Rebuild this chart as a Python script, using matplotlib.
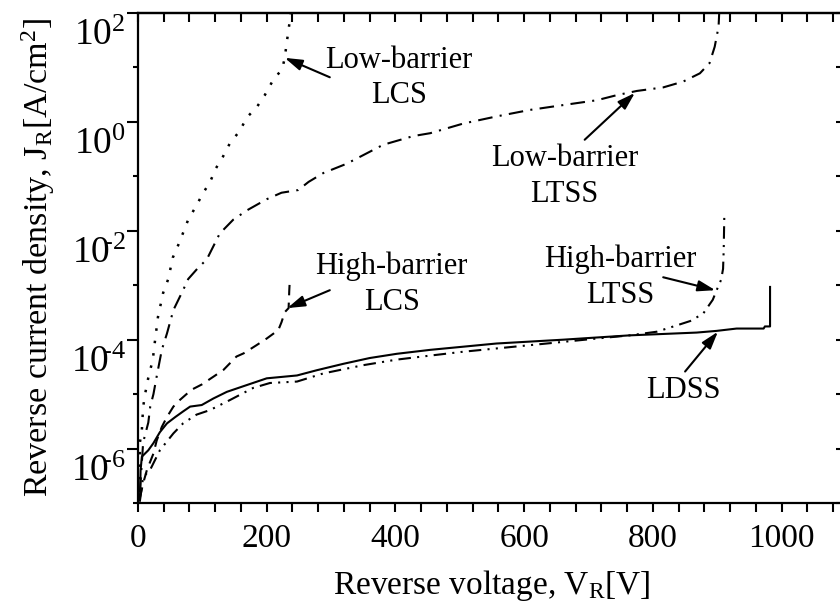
import math
import matplotlib
matplotlib.use("Agg")
import matplotlib.pyplot as plt
from matplotlib.ticker import FixedLocator, FuncFormatter, MultipleLocator, NullFormatter, NullLocator
from matplotlib.transforms import ScaledTranslation

plt.rcParams['font.family'] = ['Liberation Serif', 'DejaVu Serif']
plt.rcParams['mathtext.fontset'] = 'custom'
plt.rcParams['mathtext.rm'] = 'Liberation Serif'
plt.rcParams['mathtext.it'] = 'Liberation Serif:italic'
plt.rcParams['mathtext.bf'] = 'Liberation Serif:bold'

# Reverse I-V characteristics: voltage [V] and current density [A/cm^2]
lb_lcs_v = [2, 3, 6, 8, 11, 16, 23, 26, 31, 39, 47, 54, 64, 78, 90, 101, 112, 121,
            132, 143, 158, 169, 185, 197, 210, 224, 228, 231, 234, 236, 237]
lb_lcs_j = [1.6e-7, 1.3e-6, 2.2e-6, 5.8e-6, 1.0e-5, 2.0e-5, 4.3e-5, 8.7e-5, 2.6e-4,
            7.2e-4, 1.3e-3, 3.2e-3, 6.0e-3, 1.6e-2, 2.8e-2, 4.9e-2, 7.9e-2, 0.14,
            0.23, 0.41, 0.68, 1.2, 1.9, 3.1, 5.9, 9.3, 15, 28, 50, 75, 100]

lb_ltss_v = [3, 8, 16, 19, 24, 29, 37, 45, 55, 70, 78, 92, 107, 127, 148, 170, 200,
             223, 249, 265, 288, 324, 381, 428, 454, 505, 557, 609, 661, 713, 744,
             775, 816, 847, 873, 888, 896, 902, 903]
lb_ltss_j = [1.6e-7, 1.3e-6, 3.0e-6, 5.9e-6, 1.0e-5, 2.1e-5, 6.5e-5, 1.3e-4, 3.5e-4,
             8.1e-4, 1.3e-3, 2.0e-3, 3.0e-3, 8.9e-3, 1.6e-2, 2.4e-2, 3.8e-2, 5.0e-2,
             5.6e-2, 7.9e-2, 0.115, 0.17, 0.38, 0.55, 0.62, 0.93, 1.26, 1.66, 2.04,
             2.5, 3.1, 3.7, 4.3, 5.5, 7.8, 12, 24, 56, 100]

hb_lcs_v = [3, 8, 14, 24, 29, 37, 45, 55, 65, 83, 99, 120, 133, 153, 164, 184, 200,
            218, 223, 228, 234, 235, 236]
hb_lcs_j = [1.26e-7, 2.3e-7, 4.1e-7, 8.1e-7, 1.4e-6, 2.5e-6, 3.8e-6, 5.9e-6, 7.8e-6,
            1.2e-5, 1.5e-5, 2.2e-5, 2.8e-5, 4.9e-5, 5.6e-5, 7.9e-5, 1.05e-4, 1.5e-4,
            2.1e-4, 3.2e-4, 3.8e-4, 7.9e-4, 1.35e-3]

hb_ltss_v = [3, 8, 19, 34, 55, 70, 91, 112, 143, 179, 205, 247, 288, 350, 402, 454,
             505, 557, 635, 713, 764, 806, 832, 858, 878, 893, 899, 906, 909, 910, 911]
hb_ltss_j = [1.1e-7, 3.0e-7, 4.1e-7, 9.3e-7, 1.9e-6, 2.9e-6, 4.2e-6, 5.1e-6, 7.8e-6,
             1.3e-5, 1.6e-5, 1.7e-5, 2.4e-5, 3.4e-5, 4.3e-5, 5.1e-5, 6.0e-5, 6.9e-5,
             8.5e-5, 1.05e-4, 1.2e-4, 1.4e-4, 1.75e-4, 2.2e-4, 3.0e-4, 5.4e-4, 8.1e-4,
             1.26e-3, 2.0e-3, 4.5e-3, 2.1e-2]

ldss_v = [3, 4, 6, 16, 24, 34, 45, 58, 70, 81, 99, 117, 138, 164, 200, 247, 278, 319,
          360, 402, 454, 557, 661, 764, 868, 899, 930, 972, 974, 982, 982]
ldss_j = [1.1e-7, 4.0e-7, 7.1e-7, 9.3e-7, 1.26e-6, 2.0e-6, 2.9e-6, 3.8e-6, 4.8e-6,
          5.9e-6, 6.3e-6, 8.3e-6, 1.1e-5, 1.4e-5, 1.95e-5, 2.2e-5, 2.75e-5, 3.6e-5,
          4.6e-5, 5.5e-5, 6.5e-5, 8.5e-5, 1.0e-4, 1.2e-4, 1.35e-4, 1.45e-4, 1.6e-4,
          1.6e-4, 1.75e-4, 1.75e-4, 9.3e-4]

x_major = [0, 200, 400, 600, 800, 1000]
y_major = [1e-6, 1e-4, 1e-2, 1e0, 1e2]
y_minor = [1e-7, 1e-5, 1e-3, 1e-1, 1e1]

# annotation: label, text position, arrow tail, arrow tip  (V, J)
notes = [
    ("Low-barrier\nLCS", (405, 6.4), (298, 6.6), (228, 15)),
    ("Low-barrier\nLTSS", (663, 0.10), (694, 0.47), (772, 3.4)),
    ("High-barrier\nLCS", (394, 1.05e-3), (298, 8.1e-4), (232, 3.8e-4)),
    ("High-barrier\nLTSS", (749, 1.4e-3), (816, 1.4e-3), (897, 8.1e-4)),
    ("LDSS", (847, 1.15e-5), (850, 2.6e-5), (901, 1.4e-4)),
]


def exp_label(v, pos):
    e = round(math.log10(v))
    if e < 0:
        # narrow hyphen tucked against the base so every "10" lines up
        return r"$10^{\!\!\text{-}%d}$" % (-e)
    return r"$10^{%d}$" % e


fig = plt.figure(figsize=(8.4, 6.08), dpi=100)
ax = fig.add_axes([138 / 840, 105 / 608, 708 / 840, 490 / 608])
ax.set_yscale('log')
ax.set_xlim(0, 1100)
ax.set_ylim(1e-7, 1e2)

lw = 1.5
ax.plot(lb_lcs_v, lb_lcs_j, color='black', lw=1.8, linestyle=(0, (1, 4)))
ax.plot(lb_ltss_v, lb_ltss_j, color='black', lw=lw, linestyle=(0, (7, 3.5, 1, 3.5)))
ax.plot(hb_lcs_v, hb_lcs_j, color='black', lw=lw, linestyle=(0, (5, 3.5)))
ax.plot(hb_ltss_v, hb_ltss_j, color='black', lw=lw, linestyle=(0, (6, 3, 1, 3, 1, 3)))
ax.plot(ldss_v, ldss_j, color='black', lw=lw, linestyle='-')

for text, tpos, tail, tip in notes:
    ax.annotate('', xy=tip, xytext=tail,
                arrowprops=dict(arrowstyle='-|>,head_length=0.7,head_width=0.22',
                                mutation_scale=15, lw=1.5, color='black',
                                shrinkA=0, shrinkB=0))
    ax.text(tpos[0], tpos[1], text, ha='center', va='center', fontsize=22,
            multialignment='center', linespacing=1.3)

# spines and ticks
for s in ax.spines.values():
    s.set_linewidth(1.6)

ax.xaxis.set_major_locator(FixedLocator(x_major))
ax.xaxis.set_minor_locator(MultipleLocator(40))
ax.xaxis.set_major_formatter(FuncFormatter(lambda v, p: f"{v:.0f}"))
ax.tick_params(axis='x', which='both', direction='out', length=6.5, width=1.5,
               labelsize=24, pad=8)

ax.yaxis.set_major_locator(FixedLocator(y_major))
ax.yaxis.set_minor_locator(FixedLocator(y_minor))
ax.yaxis.set_major_formatter(FuncFormatter(exp_label))
ax.yaxis.set_minor_formatter(NullFormatter())
ax.tick_params(axis='y', which='major', direction='out', length=8, width=1.5,
               labelsize=27, pad=1)
ax.tick_params(axis='y', which='minor', direction='out', length=3.6, width=1.5)

top = ax.secondary_xaxis('top')
top.xaxis.set_major_locator(FixedLocator(x_major))
top.xaxis.set_minor_locator(MultipleLocator(40))
top.tick_params(axis='x', which='both', direction='in', length=6.5, width=1.5,
                labeltop=False)
top.spines['top'].set_linewidth(1.6)

right = ax.secondary_yaxis('right')
right.yaxis.set_major_locator(FixedLocator(y_major + y_minor))
right.yaxis.set_minor_locator(NullLocator())
right.tick_params(axis='y', which='both', direction='in', length=7, width=1.5,
                  labelright=False)

ax.set_xlabel(r"Reverse voltage, V$_{\mathrm{R}}$[V]", fontsize=24, labelpad=10)
ax.set_ylabel(r"Reverse current density, J$_{\mathrm{R}}$[A/cm$^{2}$]", fontsize=24.5,
              labelpad=10)

shift = ScaledTranslation(0, -13.5 / 72, fig.dpi_scale_trans)
for lab in ax.get_yticklabels():
    lab.set_transform(lab.get_transform() + shift)

fig.savefig('out.png', dpi=100)
